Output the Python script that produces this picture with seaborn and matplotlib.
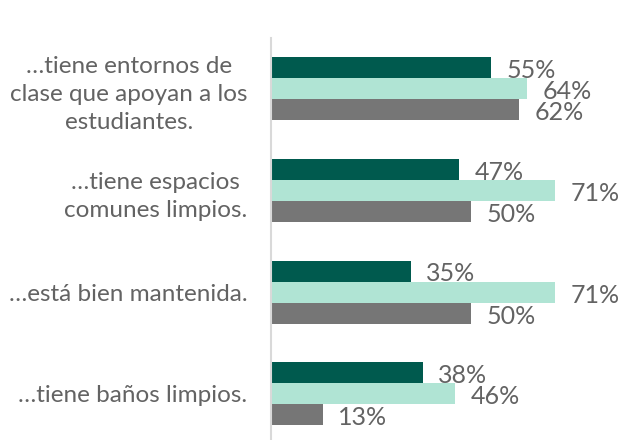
import matplotlib
matplotlib.use("Agg")
import matplotlib.pyplot as plt
import seaborn as sns
import pandas as pd

categories = [
    "…tiene entornos de\nclase que apoyan a los\nestudiantes.",
    "…tiene espacios\ncomunes limpios.",
    "…está bien mantenida.",
    "…tiene baños limpios.",
]
series_names = ["Serie A", "Serie B", "Serie C"]
serie_a = [55, 47, 35, 38]
serie_b = [64, 71, 71, 46]
serie_c = [62, 50, 50, 13]
colors = ["#005A4E", "#B0E4D4", "#767676"]

rows = []
for name, vals in zip(series_names, [serie_a, serie_b, serie_c]):
    for cat, v in zip(categories, vals):
        rows.append({"cat": cat, "serie": name, "val": v})
df = pd.DataFrame(rows)

sns.set_theme(style="white")
plt.rcParams["font.family"] = ["Lato", "DejaVu Sans"]

fig = plt.figure(figsize=(6.35, 4.4), dpi=100)
ax = fig.add_axes([271 / 635, 0, (635 - 271) / 635, (440 - 38) / 440])

sns.barplot(data=df, y="cat", x="val", hue="serie", palette=colors,
            order=categories, hue_order=series_names, width=0.62,
            orient="h", ax=ax, legend=False, saturation=1, linewidth=0)

for cont in ax.containers:
    anns = ax.bar_label(cont, labels=[f"{int(round(b.get_width()))}%" for b in cont],
                        padding=11, fontsize=18, color="#636363")
    for a in anns:
        a.xyann = (11, -2)

ax.set_xlim(0, (635 - 271) / 4)
ax.set_ylim(3.453, -0.5)
ax.set_xlabel("")
ax.set_ylabel("")
ax.set_xticks([])
for s in ["top", "right", "bottom"]:
    ax.spines[s].set_visible(False)
ax.spines["left"].set_color("#D9D9D9")
ax.spines["left"].set_linewidth(1.5)
ax.tick_params(axis="y", length=0, pad=17, labelsize=17.5, labelcolor="#636363")
for t in ax.get_yticklabels():
    t.set_multialignment("center")
    t.set_linespacing(1.42)

fig.savefig("out.png", dpi=100)
